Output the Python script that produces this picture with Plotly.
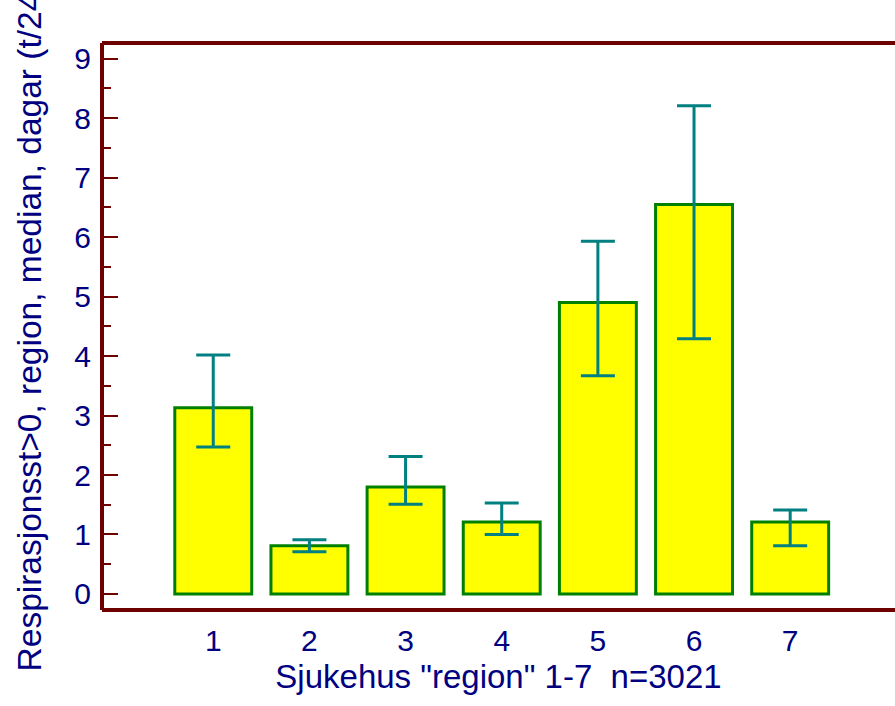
import plotly.graph_objects as go

# Data
regions = [1, 2, 3, 4, 5, 6, 7]
median_days = [3.13, 0.81, 1.80, 1.21, 4.90, 6.55, 1.21]
ci_low = [2.47, 0.71, 1.51, 1.00, 3.67, 4.29, 0.81]
ci_high = [4.02, 0.91, 2.31, 1.53, 5.93, 8.21, 1.41]
y_ticks = [0, 1, 2, 3, 4, 5, 6, 7, 8, 9]

x_title = 'Sjukehus "region" 1-7\u00a0\u00a0n=3021'
y_title = "Respirasjonsst>0, region, median, dagar (t/24)"

NAVY = "#000080"
MAROON = "#6e0000"
FONT = "Liberation Sans, Arial, sans-serif"

err_plus = [h - m for h, m in zip(ci_high, median_days)]
err_minus = [m - l for m, l in zip(median_days, ci_low)]

fig = go.Figure()
fig.add_trace(go.Bar(
    x=regions,
    y=median_days,
    width=0.8,
    marker=dict(color="#ffff00", line=dict(color="#008000", width=3)),
    error_y=dict(type="data", symmetric=False, array=err_plus, arrayminus=err_minus,
                 color="#008080", thickness=3, width=17),
    showlegend=False,
))

# axis frame (left, top, bottom)
for shp in [
    dict(x0=0, x1=0, y0=0, y1=1),
    dict(x0=0, x1=1, y0=1, y1=1),
    dict(x0=0, x1=1, y0=0, y1=0),
]:
    fig.add_shape(type="line", xref="paper", yref="paper",
                  line=dict(color=MAROON, width=4), **shp)

fig.update_layout(
    width=895, height=706,
    margin=dict(l=102, r=0, t=43, b=96),
    plot_bgcolor="white", paper_bgcolor="white",
    font=dict(family=FONT, color=NAVY, size=30),
    bargap=0.2,
)
fig.update_xaxes(
    range=[-0.157, 8.09],
    tickvals=regions,
    ticktext=[str(r) for r in regions],
    showgrid=False, zeroline=False, showline=False,
    ticks="",
    tickfont=dict(size=30, color=NAVY),
    ticklabelstandoff=10,
    title=dict(text=x_title, font=dict(size=33, color=NAVY), standoff=8),
)
fig.update_yaxes(
    range=[-0.27, 9.265],
    tickvals=y_ticks,
    showgrid=False, zeroline=False, showline=False,
    ticks="inside", ticklen=16, tickwidth=2, tickcolor=MAROON,
    minor=dict(dtick=0.5, ticks="inside", ticklen=9, tickwidth=2, tickcolor=MAROON),
    tickfont=dict(size=30, color=NAVY),
    ticklabelstandoff=10,
    title=dict(text=y_title, font=dict(size=33.5, color=NAVY), standoff=22),
)

fig.write_html("out.html")
